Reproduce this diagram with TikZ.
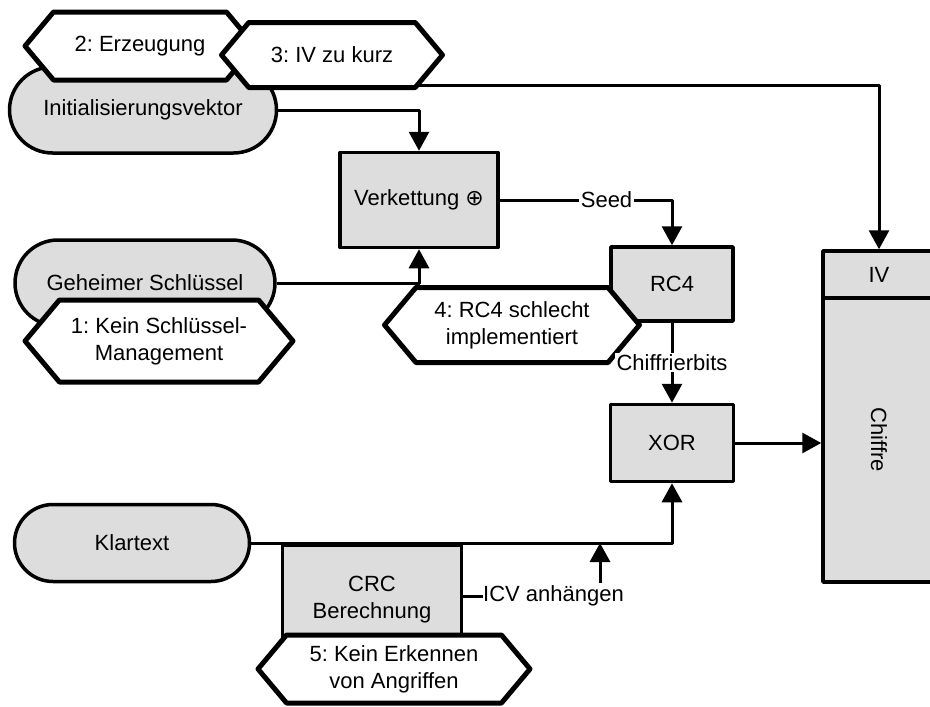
\documentclass[tikz,border=0pt]{standalone}
\usepackage{fontspec}
\setmainfont{Liberation Sans}
\newfontfamily\symfont{DejaVu Sans}
\usetikzlibrary{arrows.meta, shapes.misc, shapes.symbols}
\definecolor{ink}{HTML}{000000}
\definecolor{stipple}{HTML}{DDDDDD}
\newcommand{\figfontsize}{\fontsize{22}{27}\selectfont\frenchspacing}
\tikzset{
  every picture/.style = {font=\figfontsize, line join=round},
  block/.style = {rectangle, draw=ink, fill=stipple, line width=3.5pt, inner sep=0pt, align=center},
  pill/.style  = {rounded rectangle, draw=ink, fill=stipple, line width=3.5pt, inner sep=0pt},
  flaw/.style  = {signal, signal to=west and east, signal pointer angle=100,
                  draw=ink, fill=white, line width=5pt, inner sep=0pt, align=center},
  wire/.style  = {draw=ink, line width=3pt},
  flow/.style  = {wire, -{Triangle[width=20pt, length=19pt]}},
  tag/.style   = {fill=white, inner sep=1.5pt, text=ink},
}

\begin{document}
\begin{tikzpicture}[x=1pt, y=-1pt]
  \useasboundingbox (0,0) rectangle (930,707);
  \clip (0,0) rectangle (930,707);

  % IV source, half hidden under the two flaw tags
  \node[pill, minimum width=267pt, minimum height=86pt] (initvec) at (143,110) {Initialisierungsvektor};
  \node[flaw, minimum width=230pt, minimum height=68pt] (gen) at (140,46) {2: Erzeugung};

  % frame on the right, cut off by the page edge
  \node[block, minimum width=112pt, minimum height=47pt] (ivfield) at (879,274.5) {IV};
  \node[block, minimum width=112pt, minimum height=284pt] (cipher) at (879,440) {\rotatebox{-90}{Chiffre}};

  \coordinate (ivtap) at (380,85);
  \draw[flow] (ivtap) -| (ivfield.north);
  \node[flaw, minimum width=221pt, minimum height=65pt] (ivshort) at (332,55) {3: IV zu kurz};

  \node[block, minimum width=158pt, minimum height=95pt] (verk) at (419,200) {Verkettung {\symfont ⊕}};
  \node[pill, minimum width=260pt, minimum height=86pt] (secret) at (145,283) {Geheimer Schlüssel};
  \node[flaw, minimum width=268pt, minimum height=82pt] (keymgmt) at (159,341) {1: Kein Schlüssel-\\Management};

  \node[block, minimum width=122pt, minimum height=74pt] (rc4) at (672,284) {RC4};
  \node[flaw, minimum width=255pt, minimum height=75pt] (rc4weak) at (512,325) {4: RC4 schlecht\\implementiert};
  \node[block, minimum width=123pt, minimum height=77pt] (xor) at (672,443) {XOR};

  \node[pill, minimum width=235pt, minimum height=77pt] (plain) at (132,543) {Klartext};
  \node[block, minimum width=179pt, minimum height=110pt] (crc) at (372,600) {CRC\\Berechnung};
  \node[flaw, minimum width=272pt, minimum height=68pt] (noauth) at (394,669) {5: Kein Erkennen\\von Angriffen};
  \node[tag, anchor=west, inner sep=0pt] (icv) at (483,596) {ICV anhängen};

  % data paths
  \draw[flow] (initvec.east) -| (verk.north);
  \draw[flow] (secret.east) -| (verk.south);
  \draw[flow] (verk.east) -- node[tag, pos=0.62] {Seed} (verk.east -| rc4.north) -- (rc4.north);
  \draw[flow] (rc4.south) -- node[tag] {Chiffrierbits} (xor.north);
  \draw[flow] (xor.east) -- (xor.east -| cipher.west);
  \draw[flow] (plain.east) -| (xor.south);
  \draw[wire] (crc.east |- icv.west) -- (icv.west);
  \coordinate (icvin) at (600,583);
  \draw[flow] (icvin) -- (icvin |- plain.east);
\end{tikzpicture}
\end{document}
